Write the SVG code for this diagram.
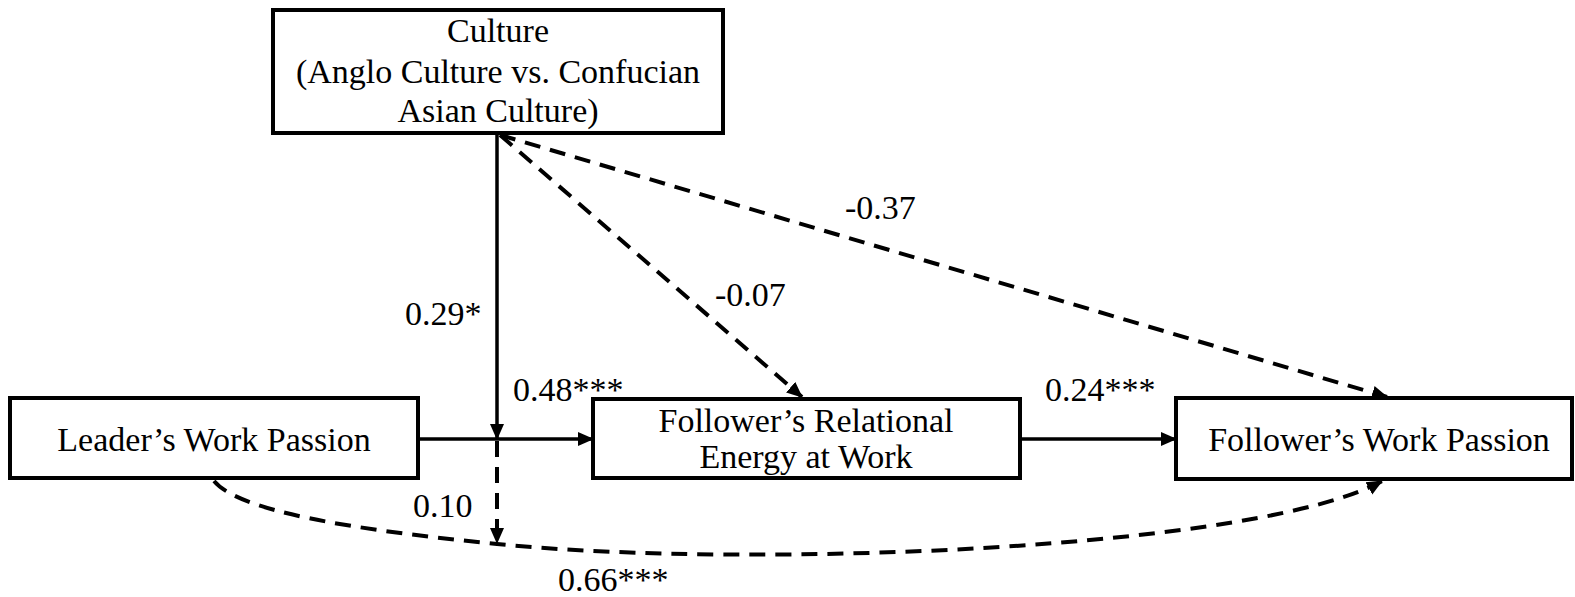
<svg xmlns="http://www.w3.org/2000/svg" width="1575" height="597" viewBox="0 0 1575 597">
<style>
.box{fill:#fff;stroke:#000;stroke-width:4}
.t{font-family:'Times New Roman','Liberation Serif','DejaVu Serif',serif;font-size:34px;fill:#000}
.m{text-anchor:middle}
.ln{fill:none;stroke:#000;stroke-width:3.5}
.d{stroke-width:4;stroke-dasharray:16 10}
</style>
<defs>
<marker id="ah" markerUnits="userSpaceOnUse" markerWidth="18" markerHeight="16" refX="15" refY="8" orient="auto">
<path d="M0,1 L16,8 L0,15 z" fill="#000"/>
</marker>
</defs>
<g id="connectors">
<path class="ln" d="M497,135 L497,439" marker-end="url(#ah)"/>
<path class="ln" d="M420,439 L593,439" marker-end="url(#ah)"/>
<path class="ln" d="M1022,439 L1176,439" marker-end="url(#ah)"/>
<path class="ln d" d="M497,441 L497,543" marker-end="url(#ah)"/>
<path class="ln d" d="M500,135 L802,397" marker-end="url(#ah)"/>
<path class="ln d" d="M500,135 L1387,397" marker-end="url(#ah)"/>
<path class="ln d" d="M214,481 C239,511 347,529 497,544 C760,570 1262,548 1382,481" marker-end="url(#ah)"/>
</g>
<g id="culture">
<rect class="box" x="273" y="10" width="450" height="123"/>
<text class="t m" x="498" y="42">Culture</text>
<text class="t m" x="498" y="83">(Anglo Culture vs. Confucian</text>
<text class="t m" x="498" y="122">Asian Culture)</text>
</g>
<g id="leader">
<rect class="box" x="10" y="398" width="408" height="80"/>
<text class="t m" x="214" y="451">Leader’s Work Passion</text>
</g>
<g id="relational">
<rect class="box" x="593" y="399" width="427" height="79"/>
<text class="t m" x="806" y="432">Follower’s Relational</text>
<text class="t m" x="806" y="468">Energy at Work</text>
</g>
<g id="follower">
<rect class="box" x="1176" y="398" width="396" height="81"/>
<text class="t m" x="1379" y="451">Follower’s Work Passion</text>
</g>
<g id="labels">
<text class="t" x="405" y="325">0.29*</text>
<text class="t" x="513" y="401">0.48***</text>
<text class="t" x="715" y="306">-0.07</text>
<text class="t" x="845" y="219">-0.37</text>
<text class="t" x="1045" y="401">0.24***</text>
<text class="t" x="413" y="517">0.10</text>
<text class="t" x="558" y="591">0.66***</text>
</g>
</svg>
